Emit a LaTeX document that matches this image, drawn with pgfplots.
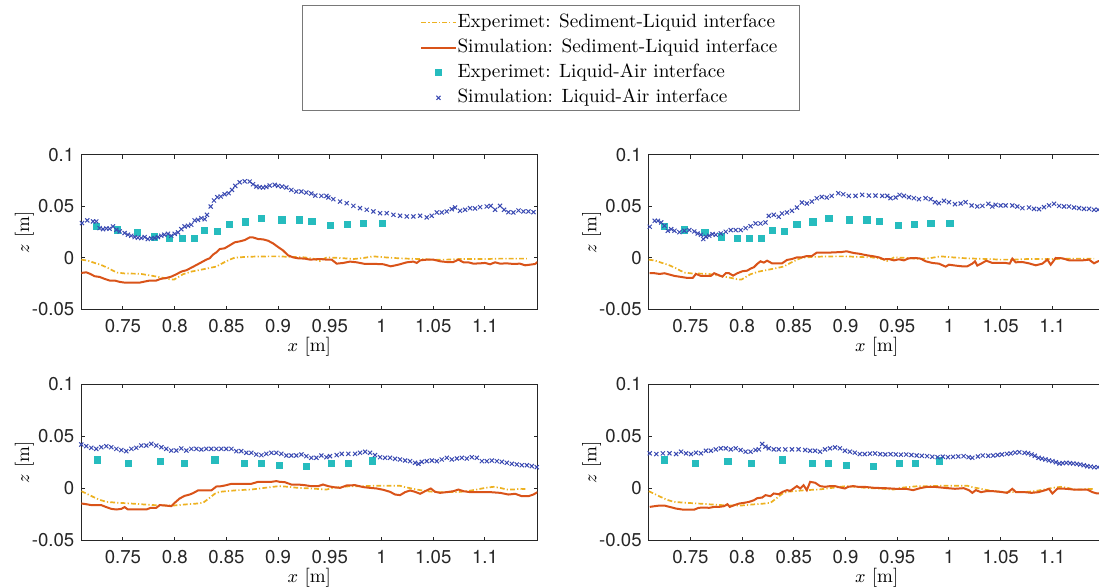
\documentclass[border=0pt]{standalone}
\usepackage{pgfplots}
\pgfplotsset{compat=1.18}
\usepackage{pgfplotstable}
\usepackage{fontspec}
\newfontfamily\heros{TeX Gyre Heros}

\definecolor{expsed}{RGB}{237,177,32}
\definecolor{simsed}{RGB}{217,83,25}
\definecolor{expair}{RGB}{38,188,190}
\definecolor{simair}{RGB}{58,74,178}
\definecolor{axgray}{RGB}{38,38,38}
\definecolor{legframe}{RGB}{120,120,120}

% ---------------- experiment, upper row ----------------
\pgfplotstableread{
x z
0.7097 -0.0016
0.7162 -0.0026
0.7226 -0.0048
0.7290 -0.0068
0.7355 -0.0097
0.7403 -0.0123
0.7445 -0.0142
0.7516 -0.0150
0.7613 -0.0152
0.7677 -0.0155
0.7742 -0.0166
0.7806 -0.0177
0.7887 -0.0192
0.7951 -0.0206
0.7993 -0.0210
0.8032 -0.0187
0.8080 -0.0158
0.8161 -0.0132
0.8258 -0.0113
0.8338 -0.0097
0.8403 -0.0083
0.8467 -0.0048
0.8532 -0.0016
0.8580 0.0003
0.8677 0.0010
0.8806 0.0015
0.9000 0.0016
0.9128 0.0010
0.9257 0.0006
0.9354 -0.0010
0.9400 -0.0030
0.9470 0.0006
0.9599 0.0000
0.9728 -0.0010
0.9825 0.0000
0.9921 0.0016
0.9986 0.0010
1.0115 0.0000
1.0244 -0.0006
1.0373 -0.0010
1.0501 -0.0016
1.0630 -0.0016
1.0759 -0.0010
1.0888 -0.0010
1.1017 -0.0010
1.1146 -0.0006
1.1275 -0.0006
1.1404 -0.0006
}\expSedUp

\pgfplotstableread{
x z
0.7246 0.0305
0.7445 0.0272
0.7640 0.0250
0.7800 0.0205
0.7952 0.0194
0.8072 0.0194
0.8188 0.0194
0.8290 0.0271
0.8412 0.0262
0.8530 0.0326
0.8685 0.0351
0.8839 0.0382
0.9037 0.0370
0.9206 0.0370
0.9327 0.0358
0.9509 0.0313
0.9669 0.0326
0.9826 0.0337
1.0009 0.0337
}\expAirUp

% ---------------- experiment, lower row ----------------
\pgfplotstableread{
x z
0.7097 -0.0026
0.7145 -0.0048
0.7210 -0.0080
0.7274 -0.0109
0.7339 -0.0128
0.7419 -0.0135
0.7516 -0.0141
0.7613 -0.0147
0.7710 -0.0154
0.7806 -0.0160
0.7903 -0.0163
0.8000 -0.0163
0.8096 -0.0154
0.8193 -0.0147
0.8274 -0.0138
0.8338 -0.0090
0.8387 -0.0051
0.8435 -0.0032
0.8499 -0.0026
0.8612 -0.0016
0.8741 -0.0010
0.8870 0.0006
0.9000 0.0022
0.9064 0.0019
0.9192 0.0006
0.9321 0.0000
0.9467 -0.0010
0.9534 0.0006
0.9599 0.0013
0.9695 0.0022
0.9792 0.0022
0.9921 0.0026
1.0050 0.0026
1.0179 0.0026
1.0228 0.0013
1.0340 -0.0010
1.0437 -0.0026
1.0534 -0.0035
1.0631 -0.0035
1.0728 -0.0035
1.0824 -0.0026
1.0921 -0.0010
1.1002 0.0006
1.1082 0.0016
1.1147 0.0006
1.1211 -0.0010
1.1276 -0.0010
1.1340 -0.0003
1.1405 -0.0006
}\expSedLow

\pgfplotstableread{
x z
0.7250 0.0275
0.7550 0.0243
0.7862 0.0264
0.8093 0.0243
0.8388 0.0275
0.8676 0.0243
0.8836 0.0243
0.9011 0.0220
0.9271 0.0212
0.9518 0.0244
0.9679 0.0244
0.9911 0.0266
}\expAirLow

% ---------------- simulation, top left ----------------
\pgfplotstableread{
x z
0.7097 -0.0145
0.7145 -0.0139
0.7178 -0.0152
0.7226 -0.0177
0.7274 -0.0184
0.7323 -0.0203
0.7371 -0.0219
0.7420 -0.0219
0.7468 -0.0232
0.7516 -0.0239
0.7580 -0.0239
0.7661 -0.0239
0.7710 -0.0229
0.7758 -0.0219
0.7822 -0.0219
0.7864 -0.0203
0.7919 -0.0194
0.7967 -0.0181
0.8016 -0.0158
0.8064 -0.0132
0.8113 -0.0119
0.8161 -0.0094
0.8210 -0.0068
0.8258 -0.0042
0.8306 -0.0016
0.8338 -0.0003
0.8370 0.0032
0.8403 0.0055
0.8435 0.0087
0.8483 0.0094
0.8532 0.0123
0.8580 0.0152
0.8628 0.0161
0.8677 0.0174
0.8725 0.0200
0.8757 0.0200
0.8806 0.0184
0.8854 0.0181
0.8902 0.0168
0.8951 0.0142
0.9000 0.0106
0.9047 0.0074
0.9096 0.0026
0.9144 0.0006
0.9192 -0.0003
0.9257 -0.0006
0.9309 -0.0016
0.9405 -0.0010
0.9470 -0.0016
0.9518 -0.0016
0.9566 -0.0055
0.9631 -0.0048
0.9695 -0.0035
0.9760 -0.0042
0.9840 -0.0058
0.9953 -0.0058
1.0018 -0.0061
1.0089 -0.0081
1.0163 -0.0065
1.0244 -0.0042
1.0308 -0.0035
1.0340 -0.0048
1.0373 -0.0023
1.0437 -0.0016
1.0501 -0.0016
1.0566 -0.0032
1.0630 -0.0039
1.0695 -0.0039
1.0743 -0.0016
1.0792 -0.0042
1.0840 -0.0042
1.0888 -0.0055
1.0953 -0.0052
1.1001 -0.0048
1.1049 -0.0061
1.1098 -0.0042
1.1146 -0.0055
1.1210 -0.0052
1.1275 -0.0058
1.1339 -0.0055
1.1388 -0.0071
1.1436 -0.0065
1.1485 -0.0058
1.1508 -0.0039
}\simSedTL

\pgfplotstableread{
x z
0.7104 0.0339
0.7155 0.0365
0.7210 0.0355
0.7242 0.0355
0.7274 0.0290
0.7307 0.0280
0.7340 0.0287
0.7370 0.0284
0.7403 0.0306
0.7436 0.0274
0.7468 0.0258
0.7516 0.0242
0.7548 0.0226
0.7580 0.0216
0.7613 0.0203
0.7645 0.0197
0.7677 0.0194
0.7710 0.0203
0.7740 0.0184
0.7774 0.0190
0.7806 0.0194
0.7838 0.0203
0.7870 0.0216
0.7900 0.0226
0.7935 0.0235
0.7967 0.0216
0.8000 0.0235
0.8032 0.0248
0.8064 0.0280
0.8096 0.0306
0.8129 0.0313
0.8160 0.0323
0.8193 0.0365
0.8225 0.0371
0.8258 0.0387
0.8290 0.0377
0.8312 0.0419
0.8348 0.0500
0.8380 0.0558
0.8412 0.0590
0.8445 0.0597
0.8483 0.0619
0.8522 0.0629
0.8554 0.0661
0.8586 0.0700
0.8628 0.0735
0.8677 0.0745
0.8725 0.0742
0.8757 0.0716
0.8790 0.0694
0.8822 0.0687
0.8854 0.0684
0.8886 0.0690
0.8918 0.0703
0.8967 0.0710
0.9000 0.0700
0.9038 0.0694
0.9080 0.0684
0.9128 0.0661
0.9176 0.0645
0.9225 0.0645
0.9273 0.0635
0.9321 0.0626
0.9360 0.0606
0.9418 0.0603
0.9467 0.0603
0.9486 0.0587
0.9534 0.0571
0.9599 0.0548
0.9663 0.0532
0.9728 0.0506
0.9792 0.0484
0.9857 0.0468
0.9921 0.0452
0.9986 0.0435
1.0050 0.0435
1.0115 0.0419
1.0179 0.0410
1.0244 0.0403
1.0308 0.0403
1.0373 0.0410
1.0437 0.0394
1.0485 0.0410
1.0534 0.0442
1.0582 0.0442
1.0630 0.0452
1.0679 0.0474
1.0711 0.0490
1.0759 0.0458
1.0808 0.0468
1.0856 0.0484
1.0904 0.0481
1.0953 0.0494
1.1017 0.0500
1.1056 0.0506
1.1098 0.0468
1.1146 0.0506
1.1185 0.0468
1.1227 0.0445
1.1275 0.0442
1.1324 0.0461
1.1372 0.0452
1.1420 0.0452
1.1469 0.0445
1.1508 0.0448
}\simAirTL

% ---------------- simulation, top right ----------------
\pgfplotstableread{
x z
0.7107 -0.0148
0.7155 -0.0148
0.7202 -0.0155
0.7250 -0.0148
0.7298 -0.0161
0.7346 -0.0174
0.7410 -0.0184
0.7474 -0.0194
0.7522 -0.0194
0.7554 -0.0155
0.7602 -0.0174
0.7650 -0.0174
0.7698 -0.0174
0.7730 -0.0148
0.7778 -0.0168
0.7810 -0.0181
0.7842 -0.0148
0.7874 -0.0148
0.7913 -0.0171
0.7954 -0.0148
0.8002 -0.0129
0.8050 -0.0123
0.8082 -0.0103
0.8114 -0.0090
0.8146 -0.0058
0.8178 -0.0032
0.8210 -0.0045
0.8242 -0.0026
0.8290 -0.0052
0.8338 -0.0052
0.8386 -0.0052
0.8434 -0.0019
0.8482 -0.0010
0.8530 0.0006
0.8578 0.0006
0.8626 0.0019
0.8674 0.0019
0.8722 0.0052
0.8770 0.0052
0.8834 0.0052
0.8898 0.0055
0.8962 0.0058
0.9010 0.0065
0.9081 0.0048
0.9129 0.0042
0.9177 0.0032
0.9226 0.0023
0.9274 0.0016
0.9323 0.0006
0.9371 -0.0013
0.9419 -0.0010
0.9468 -0.0023
0.9516 -0.0013
0.9565 -0.0023
0.9613 -0.0003
0.9677 0.0000
0.9726 -0.0006
0.9774 -0.0032
0.9839 -0.0048
0.9903 -0.0055
0.9968 -0.0084
1.0000 -0.0065
1.0065 -0.0074
1.0129 -0.0081
1.0177 -0.0081
1.0226 -0.0055
1.0252 -0.0032
1.0274 -0.0074
1.0323 -0.0048
1.0361 -0.0026
1.0419 -0.0048
1.0484 -0.0048
1.0548 -0.0048
1.0587 -0.0055
1.0613 -0.0006
1.0645 -0.0042
1.0710 -0.0039
1.0774 -0.0052
1.0839 -0.0071
1.0903 -0.0055
1.0952 -0.0016
1.0984 -0.0065
1.1032 0.0000
1.1097 -0.0003
1.1161 -0.0023
1.1226 -0.0023
1.1290 -0.0023
1.1355 -0.0016
1.1403 -0.0052
1.1442 -0.0032
1.1506 -0.0020
}\simSedTR

\pgfplotstableread{
x z
0.7107 0.0303
0.7155 0.0361
0.7186 0.0361
0.7218 0.0345
0.7250 0.0313
0.7282 0.0264
0.7314 0.0280
0.7346 0.0264
0.7394 0.0251
0.7442 0.0264
0.7490 0.0271
0.7538 0.0258
0.7570 0.0238
0.7602 0.0225
0.7625 0.0184
0.7650 0.0206
0.7682 0.0216
0.7714 0.0232
0.7746 0.0225
0.7794 0.0238
0.7842 0.0255
0.7890 0.0271
0.7938 0.0271
0.7986 0.0271
0.8034 0.0290
0.8082 0.0309
0.8130 0.0335
0.8178 0.0335
0.8226 0.0345
0.8258 0.0409
0.8306 0.0419
0.8354 0.0400
0.8386 0.0432
0.8434 0.0442
0.8482 0.0458
0.8530 0.0490
0.8578 0.0538
0.8626 0.0529
0.8674 0.0548
0.8722 0.0580
0.8770 0.0593
0.8818 0.0587
0.8866 0.0603
0.8930 0.0629
0.8978 0.0619
0.9032 0.0603
0.9097 0.0603
0.9161 0.0613
0.9226 0.0606
0.9290 0.0606
0.9355 0.0603
0.9403 0.0603
0.9435 0.0581
0.9484 0.0587
0.9523 0.0613
0.9565 0.0603
0.9613 0.0590
0.9661 0.0581
0.9710 0.0571
0.9774 0.0581
0.9823 0.0571
0.9865 0.0542
0.9903 0.0532
0.9952 0.0555
1.0000 0.0542
1.0058 0.0523
1.0113 0.0529
1.0161 0.0542
1.0219 0.0510
1.0274 0.0500
1.0323 0.0506
1.0381 0.0526
1.0419 0.0500
1.0452 0.0516
1.0500 0.0510
1.0548 0.0510
1.0613 0.0510
1.0661 0.0500
1.0710 0.0484
1.0774 0.0490
1.0823 0.0477
1.0871 0.0474
1.0919 0.0494
1.0968 0.0510
1.1016 0.0526
1.1065 0.0506
1.1113 0.0500
1.1161 0.0500
1.1210 0.0490
1.1258 0.0484
1.1306 0.0477
1.1355 0.0477
1.1403 0.0468
1.1442 0.0468
1.1475 0.0470
1.1505 0.0468
}\simAirTR

% ---------------- simulation, bottom left ----------------
\pgfplotstableread{
x z
0.7097 -0.0144
0.7145 -0.0151
0.7194 -0.0160
0.7242 -0.0160
0.7290 -0.0160
0.7339 -0.0179
0.7387 -0.0196
0.7436 -0.0202
0.7484 -0.0196
0.7516 -0.0179
0.7548 -0.0202
0.7613 -0.0202
0.7677 -0.0202
0.7726 -0.0202
0.7768 -0.0186
0.7822 -0.0186
0.7855 -0.0160
0.7903 -0.0163
0.7967 -0.0170
0.8000 -0.0138
0.8048 -0.0096
0.8096 -0.0071
0.8145 -0.0058
0.8177 -0.0045
0.8225 -0.0019
0.8290 -0.0019
0.8354 -0.0019
0.8403 0.0019
0.8451 0.0022
0.8499 0.0032
0.8548 0.0045
0.8612 0.0045
0.8677 0.0045
0.8741 0.0045
0.8806 0.0064
0.8870 0.0064
0.8935 0.0064
0.8983 0.0071
0.9015 0.0064
0.9064 0.0061
0.9128 0.0038
0.9192 0.0038
0.9257 0.0032
0.9321 0.0022
0.9386 0.0022
0.9434 0.0038
0.9486 0.0022
0.9534 0.0013
0.9599 0.0006
0.9663 0.0029
0.9744 0.0032
0.9825 0.0013
0.9889 0.0006
0.9953 0.0000
1.0018 -0.0013
1.0082 -0.0032
1.0131 -0.0058
1.0179 -0.0064
1.0228 -0.0035
1.0276 -0.0019
1.0324 -0.0032
1.0373 -0.0051
1.0421 -0.0026
1.0476 0.0000
1.0518 -0.0032
1.0566 -0.0042
1.0631 -0.0035
1.0695 -0.0026
1.0743 -0.0010
1.0792 -0.0026
1.0856 -0.0035
1.0953 -0.0035
1.1050 -0.0035
1.1147 -0.0042
1.1227 -0.0058
1.1292 -0.0051
1.1356 -0.0074
1.1421 -0.0074
1.1469 -0.0058
1.1508 -0.0035
}\simSedBL

\pgfplotstableread{
x z
0.7097 0.0423
0.7145 0.0407
0.7194 0.0391
0.7242 0.0381
0.7290 0.0397
0.7339 0.0407
0.7387 0.0397
0.7436 0.0381
0.7484 0.0369
0.7532 0.0359
0.7581 0.0381
0.7629 0.0391
0.7677 0.0413
0.7726 0.0413
0.7774 0.0429
0.7822 0.0413
0.7871 0.0397
0.7919 0.0381
0.7967 0.0365
0.8016 0.0365
0.8064 0.0385
0.8113 0.0365
0.8161 0.0381
0.8210 0.0381
0.8258 0.0375
0.8306 0.0381
0.8354 0.0381
0.8403 0.0381
0.8451 0.0381
0.8499 0.0381
0.8548 0.0381
0.8596 0.0359
0.8644 0.0359
0.8693 0.0343
0.8741 0.0343
0.8789 0.0327
0.8838 0.0321
0.8886 0.0333
0.8935 0.0343
0.8983 0.0343
0.9031 0.0333
0.9080 0.0317
0.9128 0.0317
0.9176 0.0317
0.9225 0.0327
0.9273 0.0311
0.9321 0.0295
0.9370 0.0295
0.9418 0.0317
0.9467 0.0301
0.9502 0.0311
0.9566 0.0321
0.9615 0.0333
0.9679 0.0333
0.9744 0.0333
0.9792 0.0343
0.9841 0.0353
0.9889 0.0343
0.9937 0.0321
0.9986 0.0301
1.0034 0.0295
1.0082 0.0295
1.0131 0.0285
1.0179 0.0279
1.0228 0.0269
1.0276 0.0263
1.0324 0.0247
1.0357 0.0237
1.0389 0.0256
1.0437 0.0263
1.0486 0.0269
1.0534 0.0263
1.0582 0.0279
1.0631 0.0295
1.0679 0.0279
1.0728 0.0288
1.0776 0.0295
1.0824 0.0288
1.0873 0.0301
1.0921 0.0295
1.0970 0.0263
1.1018 0.0263
1.1066 0.0269
1.1115 0.0263
1.1163 0.0256
1.1211 0.0247
1.1260 0.0237
1.1308 0.0231
1.1356 0.0224
1.1405 0.0224
1.1453 0.0215
1.1501 0.0205
}\simAirBL

% ---------------- simulation, bottom right ----------------
\pgfplotstableread{
x z
0.7107 -0.0177
0.7155 -0.0170
0.7202 -0.0164
0.7250 -0.0164
0.7298 -0.0177
0.7362 -0.0193
0.7426 -0.0203
0.7490 -0.0203
0.7538 -0.0203
0.7580 -0.0186
0.7634 -0.0183
0.7682 -0.0186
0.7730 -0.0177
0.7778 -0.0177
0.7826 -0.0170
0.7858 -0.0151
0.7881 -0.0177
0.7922 -0.0161
0.7970 -0.0145
0.8018 -0.0138
0.8066 -0.0129
0.8114 -0.0113
0.8146 -0.0093
0.8194 -0.0087
0.8226 -0.0064
0.8274 -0.0074
0.8306 -0.0048
0.8354 -0.0055
0.8393 -0.0032
0.8434 -0.0016
0.8466 -0.0023
0.8498 0.0000
0.8530 0.0023
0.8562 0.0000
0.8594 0.0032
0.8626 -0.0016
0.8658 0.0064
0.8706 0.0055
0.8754 0.0023
0.8802 0.0016
0.8850 0.0023
0.8898 0.0023
0.8946 0.0010
0.8994 0.0000
0.9026 0.0016
0.9074 0.0023
0.9122 0.0016
0.9180 0.0016
0.9280 0.0006
0.9385 0.0003
0.9486 -0.0003
0.9587 -0.0003
0.9654 -0.0016
0.9721 0.0003
0.9789 0.0016
0.9856 0.0016
0.9957 0.0006
1.0058 -0.0003
1.0142 0.0003
1.0193 -0.0016
1.0226 -0.0042
1.0260 -0.0016
1.0310 -0.0035
1.0361 -0.0026
1.0428 -0.0026
1.0496 -0.0032
1.0563 -0.0042
1.0613 -0.0003
1.0647 -0.0035
1.0731 -0.0035
1.0798 -0.0042
1.0866 -0.0035
1.0933 -0.0016
1.0967 -0.0003
1.1000 -0.0048
1.1051 0.0000
1.1135 -0.0003
1.1202 -0.0010
1.1270 -0.0010
1.1337 -0.0010
1.1387 -0.0035
1.1431 -0.0048
1.1505 -0.0040
}\simSedBR

\pgfplotstableread{
x z
0.7107 0.0338
0.7171 0.0331
0.7234 0.0338
0.7298 0.0338
0.7362 0.0331
0.7410 0.0354
0.7458 0.0338
0.7506 0.0331
0.7554 0.0344
0.7602 0.0338
0.7650 0.0363
0.7698 0.0363
0.7746 0.0376
0.7794 0.0386
0.7842 0.0386
0.7890 0.0376
0.7938 0.0386
0.7986 0.0370
0.8034 0.0354
0.8082 0.0354
0.8130 0.0370
0.8162 0.0376
0.8194 0.0428
0.8226 0.0402
0.8258 0.0386
0.8306 0.0376
0.8354 0.0376
0.8418 0.0376
0.8482 0.0376
0.8546 0.0376
0.8610 0.0370
0.8658 0.0363
0.8706 0.0363
0.8754 0.0354
0.8802 0.0376
0.8850 0.0386
0.8898 0.0395
0.8946 0.0386
0.8994 0.0363
0.9042 0.0354
0.9090 0.0344
0.9138 0.0331
0.9186 0.0331
0.9236 0.0335
0.9286 0.0337
0.9336 0.0330
0.9385 0.0327
0.9436 0.0330
0.9486 0.0327
0.9536 0.0325
0.9587 0.0327
0.9637 0.0322
0.9688 0.0317
0.9738 0.0314
0.9789 0.0311
0.9839 0.0305
0.9890 0.0301
0.9940 0.0306
0.9990 0.0301
1.0040 0.0304
1.0090 0.0308
1.0142 0.0311
1.0190 0.0301
1.0226 0.0295
1.0280 0.0308
1.0327 0.0317
1.0380 0.0314
1.0428 0.0317
1.0470 0.0322
1.0512 0.0327
1.0560 0.0333
1.0597 0.0337
1.0640 0.0345
1.0680 0.0349
1.0731 0.0343
1.0765 0.0338
1.0798 0.0327
1.0830 0.0314
1.0866 0.0295
1.0900 0.0287
1.0933 0.0279
1.0966 0.0270
1.1000 0.0263
1.1034 0.0252
1.1068 0.0240
1.1100 0.0244
1.1135 0.0247
1.1170 0.0244
1.1202 0.0240
1.1236 0.0236
1.1270 0.0231
1.1303 0.0223
1.1337 0.0215
1.1370 0.0210
1.1404 0.0205
1.1440 0.0205
1.1480 0.0200
1.1505 0.0198
}\simAirBR

\pgfplotsset{
  panel/.style={
    scale only axis,
    width=228pt,
    xmin=0.7097, xmax=1.1506,
    ymin=-0.05, ymax=0.1,
    xtick={0.75,0.8,0.85,0.9,0.95,1,1.05,1.1},
    xticklabels={0.75,0.8,0.85,0.9,0.95,1,1.05,1.1},
    ytick={-0.05,0,0.05,0.1},
    yticklabels={-0.05,0,0.05,0.1},
    scaled ticks=false,
    tick align=inside,
    major tick length=1.8pt,
    axis line style={axgray, line width=0.5pt},
    major tick style={axgray, line width=0.5pt},
    tick label style={font=\heros\fontsize{9.3}{11}\selectfont, text=axgray},
    xticklabel style={yshift=-1.2pt},
    label style={font=\fontsize{9.5}{11}\selectfont},
    xlabel={$x$ [m]},
    ylabel={$z$ [m]},
    xlabel style={at={(axis description cs:0.5,-0.24)}, anchor=center},
    ylabel style={at={(axis description cs:-0.125,0.5)}, anchor=center},
  },
  expsedline/.style={expsed, line width=0.85pt,
    dash pattern=on 2.4pt off 1.1pt on 0.6pt off 1.1pt},
  simsedline/.style={simsed, line width=1pt},
  expairmarks/.style={only marks, mark=square*, mark size=1.55pt,
    color=expair, mark options={draw=expair, fill=expair}},
  simairmarks/.style={only marks, mark=x, mark size=1.45pt,
    color=simair, mark options={line width=0.5pt}},
}

\begin{document}
\begin{tikzpicture}
\path[use as bounding box, clip] (0,0) rectangle (549.5pt,293.5pt);

% top left, with the shared legend
\begin{axis}[panel, at={(40.65pt,138.75pt)}, anchor=south west, height=77.25pt,
  legend cell align=left,
  legend style={at={(axis description cs:0.7428,1.922)}, anchor=north west,
    draw=none, fill=none, inner sep=0pt, column sep=0pt, row sep=2.95pt,
    font=\fontsize{9.6}{11.5}\selectfont,
    nodes={text height=7.2pt, text depth=2.4pt, inner ysep=0pt, inner xsep=0.5pt}}]
\addplot[expsedline] table {\expSedUp};
\addlegendentry{Experimet: Sediment-Liquid interface}
\addplot[simsedline] table {\simSedTL};
\addlegendentry{Simulation: Sediment-Liquid interface}
\addplot[expairmarks] table {\expAirUp};
\addlegendentry{Experimet: Liquid-Air interface}
\addplot[simairmarks] table {\simAirTL};
\addlegendentry{Simulation: Liquid-Air interface}
\end{axis}

% top right
\begin{axis}[panel, at={(324.35pt,138.75pt)}, anchor=south west, height=77.25pt]
\addplot[expsedline] table {\expSedUp};
\addplot[simsedline] table {\simSedTR};
\addplot[expairmarks] table {\expAirUp};
\addplot[simairmarks] table {\simAirTR};
\end{axis}

% bottom left
\begin{axis}[panel, at={(40.65pt,23.25pt)}, anchor=south west, height=78pt]
\addplot[expsedline] table {\expSedLow};
\addplot[simsedline] table {\simSedBL};
\addplot[expairmarks] table {\expAirLow};
\addplot[simairmarks] table {\simAirBL};
\end{axis}

% bottom right
\begin{axis}[panel, at={(324.35pt,23.25pt)}, anchor=south west, height=78pt]
\addplot[expsedline] table {\expSedLow};
\addplot[simsedline] table {\simSedBR};
\addplot[expairmarks] table {\expAirLow};
\addplot[simairmarks] table {\simAirBR};
\end{axis}

% legend frame
\draw[legframe, line width=0.5pt] (151.35pt,238.2pt) rectangle (399.5pt,290.6pt);
\end{tikzpicture}
\end{document}
